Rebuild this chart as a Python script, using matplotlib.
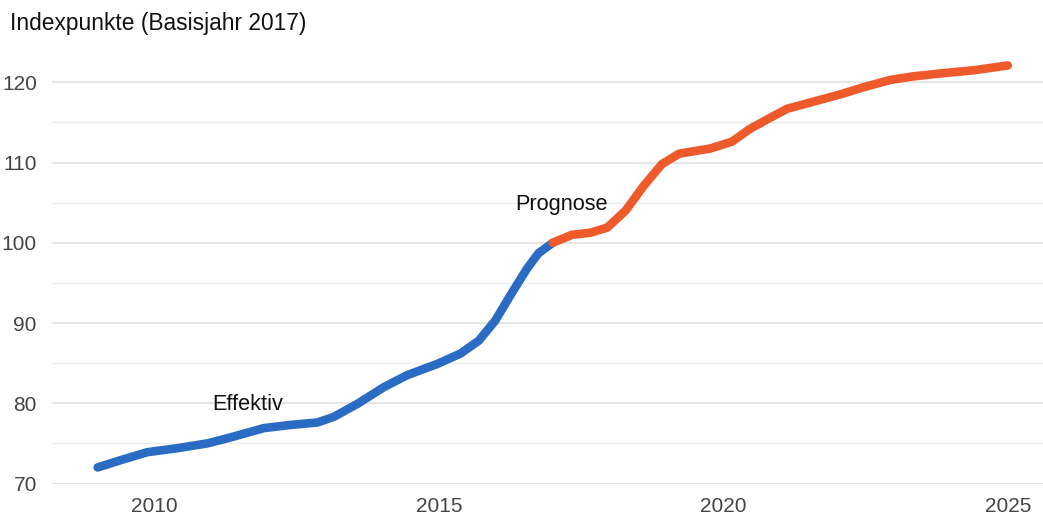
import matplotlib
matplotlib.use("Agg")
import matplotlib.pyplot as plt
from matplotlib.ticker import MultipleLocator

# values
years_eff = [2009.0, 2009.4, 2009.87, 2010.4, 2010.93, 2011.34, 2011.92, 2012.39,
             2012.86, 2013.15, 2013.56, 2014.03, 2014.44, 2014.97, 2015.38, 2015.7,
             2015.99, 2016.26, 2016.55, 2016.75, 2017.0]
index_eff = [72.0, 72.9, 73.9, 74.4, 75.0, 75.75, 76.9, 77.3,
             77.6, 78.3, 79.9, 82.0, 83.5, 84.9, 86.2, 87.8,
             90.3, 93.5, 96.8, 98.7, 100.0]

years_prog = [2017.0, 2017.34, 2017.66, 2017.96, 2018.28, 2018.6, 2018.92, 2019.22,
              2019.77, 2020.15, 2020.47, 2020.83, 2021.12, 2021.59, 2022.06, 2022.47,
              2022.94, 2023.35, 2023.81, 2024.4, 2025.0]
index_prog = [100.0, 101.0, 101.25, 101.9, 104.0, 107.1, 109.8, 111.1,
              111.75, 112.6, 114.2, 115.6, 116.7, 117.6, 118.5, 119.4,
              120.3, 120.75, 121.1, 121.5, 122.1]

x_ticks = [2010, 2015, 2020, 2025]
y_ticks = [70, 80, 90, 100, 110, 120]

title = "Indexpunkte (Basisjahr 2017)"
label_eff = ("Effektiv", 2011.63, 79.8)
label_prog = ("Prognose", 2017.15, 104.8)

plt.rcParams["font.family"] = ["Liberation Sans", "DejaVu Sans"]

fig = plt.figure(figsize=(10.43, 5.18), dpi=100)
ax = fig.add_axes([0.05, 0.0666, 0.95, 0.8504])

# grid: major every 10, minor every 5 (only up to 120)
ax.yaxis.set_major_locator(MultipleLocator(10))
ax.yaxis.set_minor_locator(MultipleLocator(5))
ax.grid(axis="y", which="major", color="#e6e6e6", linewidth=1.6)
ax.grid(axis="y", which="minor", color="#ececec", linewidth=1.0)
ax.set_axisbelow(True)

ax.plot(years_eff, index_eff, color="#2a6cc4", linewidth=6.2,
        solid_capstyle="round", solid_joinstyle="round", zorder=3)
ax.plot(years_prog, index_prog, color="#ee5a2c", linewidth=6.2,
        solid_capstyle="round", solid_joinstyle="round", zorder=3)

for txt, xx, yy in (label_eff, label_prog):
    ax.text(xx, yy, txt, ha="center", va="center", fontsize=15.7, color="#111111")

ax.set_xlim(2008.2, 2025.62)
ax.set_ylim(70, 124.9)
ax.set_xticks(x_ticks)
ax.set_yticks(y_ticks)
ax.tick_params(axis="both", which="both", length=0, labelsize=15, labelcolor="#444444")
ax.tick_params(axis="x", pad=10)
ax.tick_params(axis="y", pad=11)
for s in ax.spines.values():
    s.set_visible(False)

fig.text(0.0096, 0.955, title, ha="left", va="center", fontsize=16.4, color="#111111")

fig.savefig("out.png", dpi=100)
